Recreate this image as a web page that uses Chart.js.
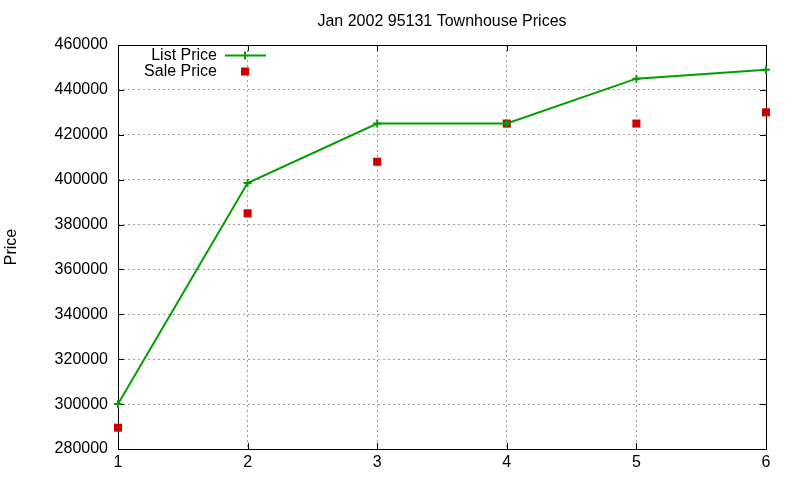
<!DOCTYPE html>
<html>
<head>
    <script src="https://cdn.jsdelivr.net/npm/chart.js"></script>
    <style>
        html, body { margin: 0; padding: 0; background: #fff; }
        #wrap { width: 800px; height: 480px; }
    </style>
</head>
<body>
<div id="wrap"><canvas id="chart" width="800" height="480"></canvas></div>

<script>
    // 데이터
    var months = [1, 2, 3, 4, 5, 6];
    var listPrice = [300000, 398500, 425000, 425000, 445000, 449000];
    var salePrice = [289500, 385000, 408000, 425000, 425000, 430000];
    var yTicks = [280000, 300000, 320000, 340000, 360000, 380000, 400000, 420000, 440000, 460000];
    var xTicks = [1, 2, 3, 4, 5, 6];

    var FONT = 'Liberation Sans, Arial, sans-serif';
    var GREEN = '#00a000';
    var RED = '#cc0000';

    // gnuplot 스타일 테두리 + 안쪽 눈금
    var framePlugin = {
        id: 'frame',
        beforeDatasetsDraw: function(chart) {
            var ctx = chart.ctx, a = chart.chartArea;
            var xs = chart.scales.x, ys = chart.scales.y;
            var tl = 6;
            ctx.save();
            ctx.strokeStyle = '#000';
            ctx.lineWidth = 1;
            ctx.beginPath();
            yTicks.forEach(function(v) {
                var y = Math.round(ys.getPixelForValue(v)) + 0.5;
                ctx.moveTo(a.left, y); ctx.lineTo(a.left + tl, y);
                ctx.moveTo(a.right, y); ctx.lineTo(a.right - tl, y);
            });
            xTicks.forEach(function(v) {
                var x = Math.round(xs.getPixelForValue(v)) + 0.5;
                ctx.moveTo(x, a.bottom); ctx.lineTo(x, a.bottom - tl);
                ctx.moveTo(x, a.top); ctx.lineTo(x, a.top + tl);
            });
            ctx.stroke();
            ctx.strokeRect(Math.round(a.left) + 0.5, Math.round(a.top) + 0.5,
                Math.round(a.right - a.left), Math.round(a.bottom - a.top));
            ctx.restore();
        }
    };

    // 범례: 글자 오른쪽 정렬 + 샘플
    var keyPlugin = {
        id: 'key',
        afterDraw: function(chart) {
            var ctx = chart.ctx;
            var textRight = 217, sx0 = 225, sx1 = 266, mx = 245;
            var rows = [55.5, 71.5];
            ctx.save();
            ctx.font = '16px ' + FONT;
            ctx.textAlign = 'right';
            ctx.textBaseline = 'middle';
            chart.data.datasets.forEach(function(ds, i) {
                var y = rows[i];
                ctx.fillStyle = '#000';
                ctx.fillText(ds.label, textRight, y);
                if (ds.showLine !== false) {
                    ctx.strokeStyle = ds.borderColor;
                    ctx.lineWidth = 2;
                    ctx.beginPath();
                    ctx.moveTo(sx0, y); ctx.lineTo(sx1, y);
                    ctx.moveTo(mx, y - 4); ctx.lineTo(mx, y + 4);
                    ctx.stroke();
                } else {
                    ctx.fillStyle = ds.backgroundColor;
                    ctx.fillRect(mx - 4, y - 4, 8, 8);
                }
            });
            ctx.restore();
        }
    };

    var ctx = document.getElementById('chart').getContext('2d');
    var chart = new Chart(ctx, {
        type: 'scatter',
        data: {
            datasets: [{
                label: 'List Price',
                data: months.map(function(m, i) { return {x: m, y: listPrice[i]}; }),
                showLine: true,
                clip: false,
                borderColor: GREEN,
                backgroundColor: GREEN,
                borderWidth: 2,
                pointStyle: 'cross',
                pointRadius: 4,
                pointBorderWidth: 2,
                tension: 0
            }, {
                label: 'Sale Price',
                data: months.map(function(m, i) { return {x: m, y: salePrice[i]}; }),
                showLine: false,
                clip: false,
                borderColor: RED,
                backgroundColor: RED,
                pointStyle: 'rect',
                pointRadius: 5.7,
                pointBorderWidth: 0
            }]
        },
        options: {
            responsive: false,
            animation: false,
            layout: { padding: { left: 0, right: 34, top: 0, bottom: 0 } },
            plugins: {
                legend: { display: false },
                tooltip: { enabled: false },
                title: {
                    display: true,
                    text: 'Jan 2002 95131 Townhouse Prices',
                    fullSize: false,
                    color: '#000',
                    font: { family: FONT, size: 16, weight: 'normal' },
                    padding: { top: 12, bottom: 13.8 }
                }
            },
            scales: {
                x: {
                    type: 'linear',
                    min: 1,
                    max: 6,
                    afterBuildTicks: function(s) { s.ticks = xTicks.map(function(v) { return {value: v}; }); },
                    afterFit: function(s) { s.height = 31; },
                    grid: { color: '#a0a0a0', drawTicks: false },
                    border: { display: false, dash: [2, 3] },
                    ticks: {
                        color: '#000',
                        padding: 4,
                        font: { family: FONT, size: 16 },
                        callback: function(v) { return String(v); }
                    }
                },
                y: {
                    min: 280000,
                    max: 460000,
                    afterBuildTicks: function(s) { s.ticks = yTicks.map(function(v) { return {value: v}; }); },
                    afterFit: function(s) { s.width = 118; },
                    grid: { color: '#a0a0a0', drawTicks: false },
                    border: { display: false, dash: [2, 3] },
                    title: {
                        display: true,
                        text: 'Price',
                        color: '#000',
                        font: { family: FONT, size: 16 },
                        padding: { top: 2, bottom: 0 }
                    },
                    ticks: {
                        color: '#000',
                        padding: 10,
                        font: { family: FONT, size: 16 },
                        callback: function(v) { return String(v); }
                    }
                }
            }
        },
        plugins: [framePlugin, keyPlugin]
    });
</script>
</body>
</html>
